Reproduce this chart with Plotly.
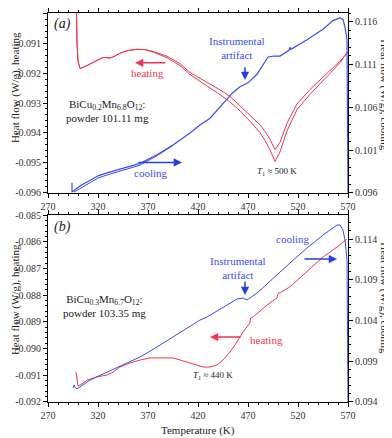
import plotly.graph_objects as go

# ---- panel (a): BiCu0.2Mn6.8O12 ----
T_heat_a = [298, 298.5, 299, 300, 302, 306, 312, 318, 324, 326, 332, 336, 342, 350, 359, 367,
            375, 389, 402, 412, 422, 432, 442, 452, 462, 472, 482, 487, 492, 497, 502, 509,
            519, 532, 545, 555, 562, 569, 570]
heat_a1 = [-0.0890, -0.0902, -0.0910, -0.0916, -0.09185, -0.09180, -0.09169, -0.09160, -0.09150,
           -0.09148, -0.09150, -0.09145, -0.09134, -0.09125, -0.09121, -0.09122, -0.09128,
           -0.09144, -0.09169, -0.09198, -0.09218, -0.09236, -0.09256, -0.09278, -0.09310,
           -0.09341, -0.09373, -0.09395, -0.09421, -0.09456, -0.09431, -0.09367, -0.09303,
           -0.09255, -0.09214, -0.09185, -0.09160, -0.09134, -0.09128]
heat_a2 = [-0.0890, -0.0902, -0.0910, -0.0916, -0.09185, -0.09180, -0.09169, -0.09160, -0.09150,
           -0.09148, -0.09150, -0.09145, -0.09134, -0.09125, -0.09121, -0.09122, -0.09130,
           -0.09149, -0.09175, -0.09205, -0.09228, -0.09250, -0.09272, -0.09297, -0.09326,
           -0.09361, -0.09399, -0.09425, -0.09456, -0.09495, -0.09463, -0.09393, -0.09322,
           -0.09271, -0.09227, -0.09191, -0.09165, -0.09134, -0.09128]

T_cool_a = [294, 294, 296, 303, 312, 320, 329, 345, 362, 379, 395, 412, 422, 432, 445, 455,
            462, 470, 479, 485, 490, 496, 502, 511, 512, 513, 529, 545, 555, 562, 565, 567,
            569, 569.5, 570]
cool_a = [0.0972, 0.0961, 0.0963, 0.0969, 0.09745, 0.0980, 0.09835, 0.09891, 0.09946, 0.10047,
          0.10159, 0.1030, 0.10393, 0.10472, 0.10639, 0.10773, 0.10840, 0.10885, 0.10985,
          0.1110, 0.11187, 0.11198, 0.11198, 0.11265, 0.1130, 0.11276, 0.11388, 0.11511,
          0.11611, 0.11645, 0.11622, 0.11533, 0.11388, 0.1050, 0.0960]
T_cool_a2 = [296, 303, 312, 320, 329, 345, 362, 379, 395]
cool_a2 = [0.0961, 0.0966, 0.0972, 0.09775, 0.0981, 0.09865, 0.09925, 0.10035, 0.10155]

# ---- panel (b): BiCu0.3Mn6.7O12 ----
T_heat_b = [298, 300, 303, 309, 319, 329, 335, 342, 352, 362, 372, 382, 395, 405, 412, 419,
            425, 432, 439, 445, 452, 459, 465, 472, 472.5, 475, 489, 499, 500, 512, 529, 545,
            559, 569]
heat_b = [-0.09088, -0.09140, -0.09135, -0.09118, -0.09106, -0.09099, -0.09088, -0.09069,
          -0.09054, -0.09043, -0.09035, -0.09035, -0.09035, -0.09046, -0.09054, -0.09061,
          -0.09069, -0.09069, -0.09061, -0.09043, -0.09013, -0.08975, -0.08938, -0.08904,
          -0.08886, -0.08882, -0.08837, -0.08810, -0.08795, -0.08769, -0.08713, -0.08657,
          -0.08620, -0.08590]

T_cool_b = [295, 296, 297, 299, 312, 329, 345, 362, 379, 395, 412, 422, 429, 445, 459, 465,
            469, 479, 495, 512, 529, 545, 559, 562, 565, 567, 569, 570]
cool_b = [0.09572, 0.09609, 0.09580, 0.09560, 0.09670, 0.09768, 0.09854, 0.09952, 0.10075,
          0.10198, 0.10320, 0.10406, 0.10443, 0.10566, 0.10664, 0.10676, 0.10652, 0.10737,
          0.10921, 0.11106, 0.11290, 0.11449, 0.11572, 0.11572, 0.11510, 0.11388, 0.11142,
          0.0940]

x_ticks = [270, 320, 370, 420, 470, 520, 570]
ya_left = [-0.096, -0.095, -0.094, -0.093, -0.092, -0.091, -0.090]
ya_right = [0.096, 0.101, 0.106, 0.111, 0.116]
yb_left = [-0.092, -0.091, -0.090, -0.089, -0.088, -0.087, -0.086, -0.085]
yb_right = [0.094, 0.099, 0.104, 0.109, 0.114]

RED = "#f0364f"
BLUE = "#3a4cf0"
ARROW_BLUE = "#2040e0"
FONT = "Liberation Serif"

fig = go.Figure()
for ys in (heat_a1, heat_a2):
    fig.add_trace(go.Scatter(x=T_heat_a, y=ys, xaxis="x", yaxis="y", mode="lines",
                             line=dict(color=RED, width=1)))
fig.add_trace(go.Scatter(x=T_cool_a, y=cool_a, xaxis="x", yaxis="y2", mode="lines",
                         line=dict(color=BLUE, width=1.2)))
fig.add_trace(go.Scatter(x=T_cool_a2, y=cool_a2, xaxis="x", yaxis="y2", mode="lines",
                         line=dict(color=BLUE, width=1)))
fig.add_trace(go.Scatter(x=T_heat_b, y=heat_b, xaxis="x2", yaxis="y3", mode="lines",
                         line=dict(color=RED, width=1)))
fig.add_trace(go.Scatter(x=T_cool_b, y=cool_b, xaxis="x2", yaxis="y4", mode="lines",
                         line=dict(color=BLUE, width=1)))


def fmt(v):
    return f"{v:.3f}"


tickfont = dict(family=FONT, size=10, color="#333")
common = dict(showline=True, linecolor="black", linewidth=1, ticks="outside", ticklen=4,
              tickcolor="black", showgrid=False, zeroline=False, tickfont=tickfont,
              automargin=False)
xcommon = dict(common, range=[270, 570], tickvals=x_ticks, mirror="ticks",
               minor=dict(ticks="outside", dtick=10, ticklen=2, tickcolor="black"))

# the page body adds an 8px offset, so the figure is 8px smaller than the window
fig.update_layout(
    width=384, height=430,
    margin=dict(l=40, r=44, t=5, b=36, autoexpand=False),
    paper_bgcolor="white", plot_bgcolor="white",
    showlegend=False,
    font=dict(family=FONT, size=11, color="#222"),
    xaxis=dict(xcommon, anchor="y", domain=[0, 1]),
    yaxis=dict(common, domain=[0.5373, 1], anchor="x", range=[-0.096, -0.090],
               tickvals=ya_left, ticktext=[fmt(v) for v in ya_left],
               minor=dict(ticks="outside", dtick=0.0002, ticklen=2, tickcolor="black")),
    yaxis2=dict(common, overlaying="y", side="right", anchor="x", range=[0.096, 0.117],
                tickvals=ya_right, ticktext=[fmt(v) for v in ya_right],
                minor=dict(ticks="outside", dtick=0.001, ticklen=2, tickcolor="black")),
    xaxis2=dict(xcommon, anchor="y3", domain=[0, 1]),
    yaxis3=dict(common, domain=[0, 0.4807], anchor="x2", range=[-0.092, -0.085],
                tickvals=yb_left, ticktext=[fmt(v) for v in yb_left],
                minor=dict(ticks="outside", dtick=0.0002, ticklen=2, tickcolor="black")),
    yaxis4=dict(common, overlaying="y3", side="right", anchor="x2", range=[0.094, 0.11695],
                tickvals=yb_right, ticktext=[fmt(v) for v in yb_right],
                minor=dict(ticks="outside", dtick=0.001, ticklen=2, tickcolor="black")),
)


def text(x, y, s, xr, yr, color="#222", size=11, **kw):
    fig.add_annotation(x=x, y=y, xref=xr, yref=yr, text=s, showarrow=False,
                       xanchor="center", yanchor="middle",
                       font=dict(family=FONT, size=size, color=color), **kw)


def arrow(x0, y0, x1, y1, xr, yr, color):
    fig.add_annotation(x=x1, y=y1, ax=x0, ay=y0, xref=xr, yref=yr, axref=xr, ayref=yr,
                       text="", showarrow=True, arrowhead=2, arrowsize=1.1, arrowwidth=1.5,
                       arrowcolor=color)


# panel (a) labels
text(284, -0.09038, "<i>(a)</i>", "x", "y", size=14)
text(329, -0.09327, "BiCu<sub>0.2</sub>Mn<sub>6.8</sub>O<sub>12</sub>:<br>powder 101.11 mg", "x", "y")
text(369, -0.09201, "heating", "x", "y", color=RED)
arrow(389, -0.09166, 357, -0.09166, "x", "y", RED)
text(372, -0.09533, "cooling", "x", "y", color=BLUE)
arrow(359, -0.09498, 404, -0.09498, "x", "y", ARROW_BLUE)
text(459, -0.09118, "Instrumental<br>artifact", "x", "y", color=BLUE)
arrow(467, -0.09176, 467, -0.09223, "x", "y", ARROW_BLUE)
text(499, -0.09527, "<i>T</i><sub>1</sub> ≈ 500 K", "x", "y", size=9)

# panel (b) labels
text(284, -0.08545, "<i>(b)</i>", "x2", "y3", size=14)
text(326, -0.08841, "BiCu<sub>0.3</sub>Mn<sub>6.7</sub>O<sub>12</sub>:<br>powder 103.35 mg", "x2", "y3")
text(514, -0.08590, "cooling", "x2", "y3", color=BLUE)
arrow(525, -0.08665, 559, -0.08665, "x2", "y3", ARROW_BLUE)
text(460, -0.08698, "Instrumental<br>artifact", "x2", "y3", color=BLUE)
arrow(467, -0.08743, 467, -0.08799, "x2", "y3", ARROW_BLUE)
text(488, -0.08968, "heating", "x2", "y3", color=RED)
arrow(464, -0.08957, 432, -0.08957, "x2", "y3", RED)
text(435, -0.09099, "<i>T</i><sub>1</sub> ≈ 440 K", "x2", "y3", size=9)

# axis titles
for yp in (0.807, 0.262):
    text(-0.11, yp, "Heat flow (W/g), heating", "paper", "paper", textangle=-90)
for yp in (0.789, 0.267):
    text(1.123, yp, "Heat flow (W/g), cooling", "paper", "paper", textangle=90)
text(0.5, -0.072, "Temperature (K)", "paper", "paper")

fig.write_html("out.html")
